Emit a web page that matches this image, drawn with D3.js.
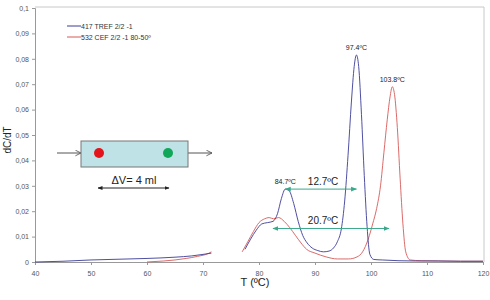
<!DOCTYPE html>
<html>
<head>
<meta charset="utf-8">
<script src="https://cdn.jsdelivr.net/npm/d3@7"></script>
<style>
  body { margin: 0; background: #fff; }
  svg { font-family: "Liberation Sans", Arial, sans-serif; }
</style>
</head>
<body>
<svg id="chart" width="490" height="300"></svg>
<script>
// Series (null = gap in the trace)
var blueT = [40, 45, 50, 55, 60, 65, 68, 70, 71.5, null, 77.5, 78.5, 79.5, 80.5, 81.5, 82.5, 83.3, 84, 84.7, 85.4, 86.2, 87, 87.8, 88.6, 89.5, 90.5, 91.5, 92.5, 93.3, 94, 94.7, 95.3, 95.9, 96.5, 97, 97.4, 97.8, 98.3, 98.8, 99.3, 99.8, 100.5, 102, 105, 108, 112, 116, 120]
var blueV = [0, 0.0003, 0.0008, 0.0011, 0.0014, 0.0019, 0.0024, 0.003, 0.0035, null, 0.005, 0.009, 0.0125, 0.015, 0.0155, 0.016, 0.019, 0.025, 0.0287, 0.028, 0.023, 0.016, 0.0105, 0.0075, 0.0055, 0.0045, 0.004, 0.0043, 0.0055, 0.008, 0.013, 0.024, 0.042, 0.063, 0.077, 0.0815, 0.077, 0.058, 0.034, 0.014, 0.003, 0.001, 0.0008, 0.0005, 0.0004, 0.0004, 0.0003, 0.0003]
var redT = [60, 63, 65, 67, 69, 71, 71.5, null, 77, 78, 79, 80, 81, 81.8, 82.6, 83.5, 84.5, 85.5, 86.5, 87.5, 88.5, 90, 92, 94, 96, 97.5, 98.5, 99.5, 100.3, 101, 101.7, 102.3, 102.9, 103.4, 103.8, 104.2, 104.7, 105.2, 105.7, 106.2, 107, 109, 112, 116, 120]
var redV = [0, 0.0004, 0.0008, 0.0014, 0.0022, 0.0034, 0.004, null, 0.004, 0.008, 0.012, 0.0155, 0.017, 0.0175, 0.017, 0.0175, 0.016, 0.0135, 0.0105, 0.0075, 0.005, 0.0035, 0.002, 0.0012, 0.0012, 0.002, 0.004, 0.009, 0.015, 0.021, 0.03, 0.043, 0.056, 0.065, 0.069, 0.066, 0.053, 0.033, 0.015, 0.004, 0.0008, 0.0005, 0.0004, 0.0003, 0.0003]

var seriesNames = ["417 TREF 2/2 -1", "532 CEF 2/2 -1  80-50º"]
var seriesColors = ["#3b3c96", "#d65a58"]

var xTicks = [40, 50, 60, 70, 80, 90, 100, 110, 120]
var yTicks = [0, 0.01, 0.02, 0.03, 0.04, 0.05, 0.06, 0.07, 0.08, 0.09, 0.1]

// peak labels
var peakT = [84.7, 97.4, 103.8]
var peakV = [0.0287, 0.0815, 0.069]
var peakText = ["84.7ºC", "97.4ºC", "103.8ºC"]

// difference arrows
var diffFrom = [84.7, 82.5]
var diffTo = [97.4, 103.2]
var diffLevel = [0.0287, 0.0132]
var diffText = ["12.7ºC", "20.7ºC"]

var svg = d3.select("#chart")

var mLeft = 35, mRight = 483, mTop = 8, mBottom = 262

var xScale = d3.scaleLinear().domain([40, 120]).range([mLeft, mRight])
var yScale = d3.scaleLinear().domain([0, 0.1]).range([mBottom, mTop])

// markers
var defs = svg.append("defs")
function marker(id, color, w) {
    defs.append("marker")
        .attr("id", id)
        .attr("viewBox", "0 0 10 10")
        .attr("refX", 9).attr("refY", 5)
        .attr("markerWidth", w).attr("markerHeight", w)
        .attr("markerUnits", "userSpaceOnUse")
        .attr("orient", "auto-start-reverse")
        .append("path")
        .attr("d", "M0,1 L10,5 L0,9 z")
        .attr("fill", color)
}
marker("gArrow", "#3aa88a", 6)
marker("kArrow", "#222", 5)
defs.append("marker")
    .attr("id", "openArrow")
    .attr("viewBox", "0 0 10 10")
    .attr("refX", 9).attr("refY", 5)
    .attr("markerWidth", 7).attr("markerHeight", 7)
    .attr("markerUnits", "userSpaceOnUse")
    .attr("orient", "auto")
    .append("path")
    .attr("d", "M1,1 L9,5 L1,9")
    .attr("fill", "none").attr("stroke", "#555").attr("stroke-width", 1.2)

// frame (top + right)
svg.append("path")
    .attr("d", `M${mLeft},${mTop - 1}H${mRight + 1}V${mBottom}`)
    .attr("fill", "none")
    .attr("stroke", "#c8c8c8")

// Y axis
var yAxis = svg.append("g")
    .attr("transform", `translate(${mLeft},0)`)
    .call(d3.axisLeft(yScale).tickValues(yTicks).tickSize(3)
        .tickFormat(d => d === 0 ? "0" : d3.format(".2~f")(d).replace(".", ",")))
yAxis.select(".domain").attr("stroke", "#999")
yAxis.selectAll(".tick line").attr("stroke", "#999")
yAxis.selectAll("text").attr("fill", "#555").attr("font-size", 7).attr("font-family", "Liberation Sans, Arial, sans-serif")

// X axis
var xAxis = svg.append("g")
    .attr("transform", `translate(0,${mBottom})`)
    .call(d3.axisBottom(xScale).tickValues(xTicks).tickSize(3).tickSizeOuter(0))
xAxis.select(".domain").attr("stroke", "#999")
xAxis.selectAll(".tick line").attr("stroke", "#999")
xAxis.selectAll("text").attr("fill", "#555").attr("font-size", 7).attr("dy", "1.2em").attr("font-family", "Liberation Sans, Arial, sans-serif")

// axis titles
svg.append("text")
    .attr("x", 255).attr("y", 286)
    .attr("text-anchor", "middle")
    .attr("font-size", 11).attr("fill", "#222")
    .text("T (ºC)")
svg.append("text")
    .attr("transform", "translate(11,140) rotate(-90)")
    .attr("text-anchor", "middle")
    .attr("font-size", 10).attr("fill", "#222")
    .text("dC/dT")

// curves
var line = d3.line()
    .defined(d => d[1] !== null)
    .x(d => xScale(d[0]))
    .y(d => yScale(d[1]))
    .curve(d3.curveMonotoneX)

var blueData = blueT.map((t, i) => [t, blueV[i]])
var redData = redT.map((t, i) => [t, redV[i]])

svg.append("path").datum(redData)
    .attr("fill", "none").attr("stroke", seriesColors[1]).attr("stroke-width", 0.9)
    .attr("d", line)
svg.append("path").datum(blueData)
    .attr("fill", "none").attr("stroke", seriesColors[0]).attr("stroke-width", 0.9)
    .attr("d", line)

// peak labels
svg.selectAll(".peak").data(peakT).enter().append("text")
    .attr("class", "peak")
    .attr("x", (d, i) => xScale(d))
    .attr("y", (d, i) => yScale(peakV[i]) - 5)
    .attr("text-anchor", "middle")
    .attr("font-size", 7).attr("fill", "#222")
    .text((d, i) => peakText[i])

// difference arrows
diffText.forEach(function (txt, i) {
    var y = yScale(diffLevel[i])
    svg.append("line")
        .attr("x1", xScale(diffFrom[i])).attr("x2", xScale(diffTo[i]))
        .attr("y1", y).attr("y2", y)
        .attr("stroke", "#3aa88a").attr("stroke-width", 1)
        .attr("marker-end", "url(#gArrow)")
        .attr("marker-start", "url(#gArrow)")
    svg.append("text")
        .attr("x", 323).attr("y", y - 4)
        .attr("text-anchor", "middle")
        .attr("font-size", 10).attr("fill", "#222")
        .text(txt)
})

// legend
seriesNames.forEach(function (name, i) {
    var y = 26 + i * 11
    svg.append("line")
        .attr("x1", 67).attr("x2", 81).attr("y1", y).attr("y2", y)
        .attr("stroke", seriesColors[i]).attr("stroke-width", 1)
    svg.append("text")
        .attr("x", 81).attr("y", y + 2.5)
        .attr("font-size", 7).attr("fill", "#333")
        .text(name)
})

// column sketch
var box = svg.append("g")
box.append("line").attr("x1", 57).attr("x2", 81).attr("y1", 153).attr("y2", 153)
    .attr("stroke", "#555").attr("marker-end", "url(#openArrow)")
box.append("line").attr("x1", 188).attr("x2", 212).attr("y1", 153).attr("y2", 153)
    .attr("stroke", "#555").attr("marker-end", "url(#openArrow)")
box.append("rect")
    .attr("x", 81).attr("y", 141).attr("width", 107).attr("height", 26)
    .attr("fill", "#bfe2e6").attr("stroke", "#777")
box.append("circle").attr("cx", 99).attr("cy", 153).attr("r", 5).attr("fill", "#e3141b")
box.append("circle").attr("cx", 168).attr("cy", 153).attr("r", 5).attr("fill", "#11a75a")
box.append("text")
    .attr("x", 134).attr("y", 184)
    .attr("text-anchor", "middle")
    .attr("font-size", 11).attr("fill", "#222")
    .text("ΔV= 4 ml")
box.append("line").attr("x1", 98).attr("x2", 169).attr("y1", 188).attr("y2", 188)
    .attr("stroke", "#222").attr("stroke-width", 1)
    .attr("marker-start", "url(#kArrow)").attr("marker-end", "url(#kArrow)")
</script>
</body>
</html>
